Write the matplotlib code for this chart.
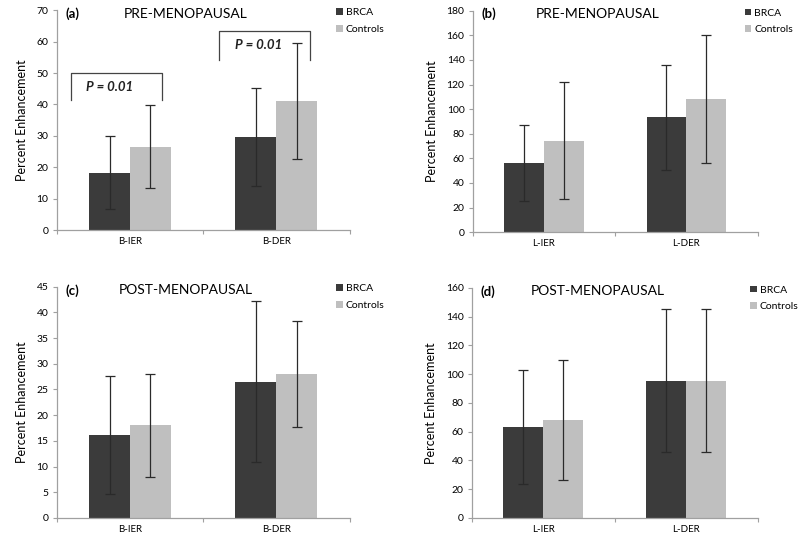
import numpy as np
import matplotlib
matplotlib.use("Agg")
import matplotlib.pyplot as plt

plt.rcParams['font.family'] = ['Lato', 'DejaVu Sans']

DARK = '#3b3b3b'
LIGHT = '#bfbfbf'
SPINE = '#a0a0a0'

groups = ['BRCA', 'Controls']

# panel data (mean, sd)
a_cats = ['B-IER', 'B-DER']
a_brca = [18.3, 29.7]
a_brca_sd = [11.6, 15.6]
a_ctrl = [26.6, 41.0]
a_ctrl_sd = [13.3, 18.5]

b_cats = ['L-IER', 'L-DER']
b_brca = [56.3, 93.5]
b_brca_sd = [30.7, 42.8]
b_ctrl = [74.5, 108.2]
b_ctrl_sd = [47.6, 52.0]

c_cats = ['B-IER', 'B-DER']
c_brca = [16.2, 26.5]
c_brca_sd = [11.5, 15.7]
c_ctrl = [18.0, 28.0]
c_ctrl_sd = [10.1, 10.3]

d_cats = ['L-IER', 'L-DER']
d_brca = [63.3, 95.5]
d_brca_sd = [39.6, 50.0]
d_ctrl = [67.8, 95.5]
d_ctrl_sd = [41.8, 50.0]

panels = [
    ('(a)', 'PRE-MENOPAUSAL', a_cats, a_brca, a_brca_sd, a_ctrl, a_ctrl_sd, 70, 10,
     [0.071, 0.574, 0.366, 0.407]),
    ('(b)', 'PRE-MENOPAUSAL', b_cats, b_brca, b_brca_sd, b_ctrl, b_ctrl_sd, 180, 20,
     [0.591, 0.570, 0.356, 0.410]),
    ('(c)', 'POST-MENOPAUSAL', c_cats, c_brca, c_brca_sd, c_ctrl, c_ctrl_sd, 45, 5,
     [0.071, 0.041, 0.366, 0.428]),
    ('(d)', 'POST-MENOPAUSAL', d_cats, d_brca, d_brca_sd, d_ctrl, d_ctrl_sd, 160, 20,
     [0.590, 0.041, 0.357, 0.426]),
]

# significance brackets in panel (a): x0, x1, top, drop-to, label x, label y
brackets = [(0.10, 0.72, 50.0, 41.4, 0.20, 45.5),
            (1.11, 1.73, 63.4, 54.3, 1.22, 58.8)]

fig = plt.figure(figsize=(8, 5.4), dpi=100)
w = 0.28

for tag, title, cats, brca, brca_sd, ctrl, ctrl_sd, ymax, step, rect in panels:
    ax = fig.add_axes(rect)
    x = np.arange(len(cats)) + 0.5
    err_kw = dict(ecolor='#2a2a2a', elinewidth=0.9, capsize=3.5, capthick=0.9)
    ax.bar(x - w / 2, brca, w, yerr=brca_sd, color=DARK, label=groups[0], error_kw=err_kw)
    ax.bar(x + w / 2, ctrl, w, yerr=ctrl_sd, color=LIGHT, label=groups[1], error_kw=err_kw)

    ax.set_xlim(0, len(cats))
    ax.set_ylim(0, ymax)
    ax.set_yticks(np.arange(0, ymax + 1, step))
    ax.set_xticks([0, 1, 2])
    ax.set_xticklabels([])
    ax.set_xticks(x, minor=True)
    ax.set_xticklabels(cats, minor=True)
    ax.tick_params(axis='x', which='minor', length=0, pad=5, labelsize=7)
    ax.tick_params(axis='x', which='major', length=3, color=SPINE)
    ax.tick_params(axis='y', length=3, color=SPINE, labelsize=7.5, pad=3)
    for s in ['top', 'right']:
        ax.spines[s].set_visible(False)
    for s in ['left', 'bottom']:
        ax.spines[s].set_color(SPINE)
        ax.spines[s].set_linewidth(0.9)
    ax.set_ylabel('Percent Enhancement', fontsize=9, labelpad=6)

    ax.text(0.03, 0.985, tag, transform=ax.transAxes, fontsize=9.5,
            fontweight='bold', va='center', ha='left')
    ax.text(0.44, 0.985, title, transform=ax.transAxes, fontsize=10,
            va='center', ha='center')
    lx = 0.975 if tag == '(d)' else 0.955
    ax.legend(loc='upper left', bbox_to_anchor=(lx, 1.01), frameon=False,
              fontsize=7.5, handlelength=0.6, handleheight=0.6, handletextpad=0.3,
              labelspacing=0.75, borderpad=0, borderaxespad=0)

    if tag == '(a)':
        for x0, x1, top, low, tx, ty in brackets:
            ax.plot([x0, x0, x1, x1], [low, top, top, low], color='#444444', lw=0.9)
            ax.text(tx, ty, 'P = 0.01', fontsize=9.5, fontstyle='italic',
                    fontweight='bold', va='center', ha='left', color='#222222')

fig.savefig('out.png', dpi=100)
